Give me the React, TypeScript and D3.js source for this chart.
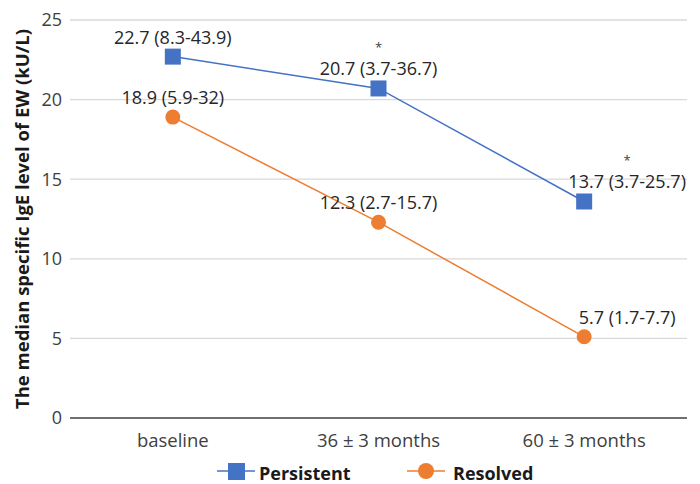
import React from "react";
import * as d3 from "d3";

const categories = ["baseline", "36 ± 3 months", "60 ± 3 months"];
const persistent = [22.7, 20.7, 13.6];
const resolved = [18.9, 12.3, 5.1];
const persistentLabels = ["22.7 (8.3-43.9)", "20.7 (3.7-36.7)", "13.7 (3.7-25.7)"];
const resolvedLabels = ["18.9 (5.9-32)", "12.3 (2.7-15.7)", "5.7 (1.7-7.7)"];
const persistentStars = [false, true, true];
const yTicks = [0, 5, 10, 15, 20, 25];

const BLUE = "#4472C4";
const ORANGE = "#ED7D31";
const FONT = "'Open Sans', sans-serif";

const width = 700;
const height = 484;
const margin = { left: 70, right: 13, top: 20, bottom: 66 };

const App = () => {
  const x = d3
    .scaleBand()
    .domain(categories)
    .range([margin.left, width - margin.right]);
  const y = d3
    .scaleLinear()
    .domain([0, 25])
    .range([height - margin.bottom, margin.top]);

  const cx = (i) => x(categories[i]) + x.bandwidth() / 2;
  const line = d3
    .line()
    .x((d, i) => cx(i))
    .y((d) => y(d));

  // the 60-month labels sit to the right of their markers
  const labelShift = [0, 0, 43];

  return (
    <svg
      width={width}
      height={height}
      style={{ position: "absolute", left: 0, top: 0 }}
      fontFamily={FONT}
    >
      {yTicks.map((t) => (
        <g key={t}>
          <line
            x1={margin.left}
            x2={width - margin.right}
            y1={y(t)}
            y2={y(t)}
            stroke={t === 0 ? "#404040" : "#d9d9d9"}
            strokeWidth={1.3}
          />
          <text x={62} y={y(t)} dy="0.36em" textAnchor="end" fontSize={18} fill="#404040">
            {t}
          </text>
        </g>
      ))}
      {categories.map((c, i) => (
        <text key={c} x={cx(i)} y={447} textAnchor="middle" fontSize={18.5} fill="#404040">
          {c}
        </text>
      ))}
      <text
        transform={`translate(29, ${(y(0) + y(25)) / 2}) rotate(-90)`}
        textAnchor="middle"
        fontSize={18.5}
        fontWeight="bold"
        fill="#1a1a1a"
      >
        The median specific IgE level of EW (kU/L)
      </text>

      <path d={line(persistent)} fill="none" stroke={BLUE} strokeWidth={1.5} />
      <path d={line(resolved)} fill="none" stroke={ORANGE} strokeWidth={1.5} />

      {persistent.map((v, i) => (
        <g key={"p" + i}>
          <rect x={cx(i) - 8} y={y(v) - 8} width={16} height={16} fill={BLUE} />
          <text
            x={cx(i) + labelShift[i]}
            y={y(v) - 13}
            textAnchor="middle"
            fontSize={18}
            fill="#262626"
          >
            {persistentLabels[i]}
          </text>
          {persistentStars[i] && (
            <text x={cx(i) + labelShift[i]} y={y(v) - 36} textAnchor="middle" fontSize={13} fill="#404040">
              *
            </text>
          )}
        </g>
      ))}
      {resolved.map((v, i) => (
        <g key={"r" + i}>
          <circle cx={cx(i)} cy={y(v)} r={7.5} fill={ORANGE} />
          <text
            x={cx(i) + labelShift[i]}
            y={y(v) - 13}
            textAnchor="middle"
            fontSize={18}
            fill="#262626"
          >
            {resolvedLabels[i]}
          </text>
        </g>
      ))}

      <g>
        <line x1={217} x2={255} y1={471} y2={471} stroke={BLUE} strokeWidth={1.5} />
        <rect x={228} y={463} width={17} height={17} fill={BLUE} />
        <text x={259} y={480} fontSize={18} fontWeight="bold" fill="#1a1a1a">
          Persistent
        </text>
        <line x1={407} x2={445} y1={471} y2={471} stroke={ORANGE} strokeWidth={1.5} />
        <circle cx={426} cy={471} r={8} fill={ORANGE} />
        <text x={453} y={480} fontSize={18} fontWeight="bold" fill="#1a1a1a">
          Resolved
        </text>
      </g>
    </svg>
  );
};

export default App;
